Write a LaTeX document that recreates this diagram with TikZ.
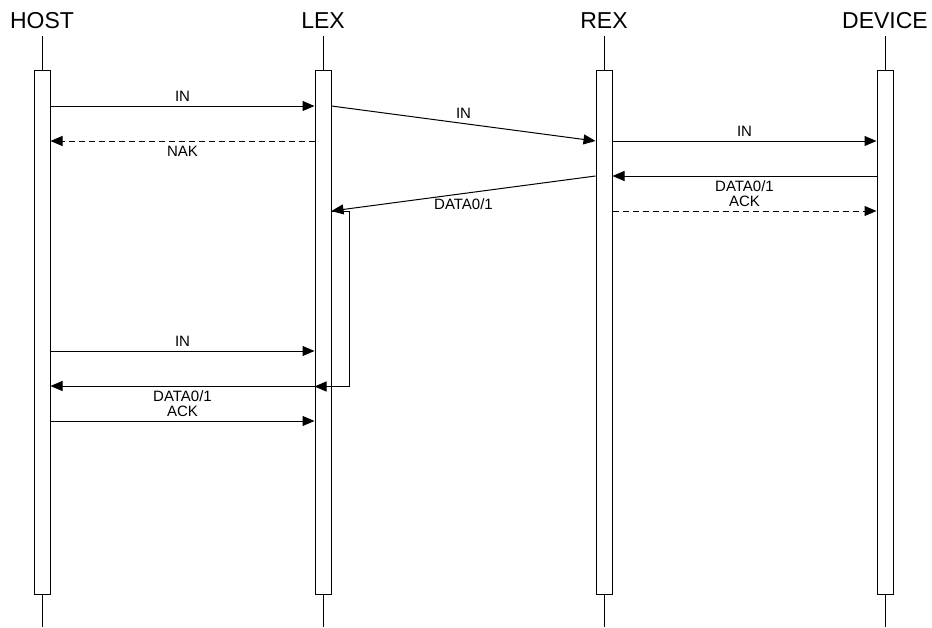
\documentclass[tikz,border=0pt]{standalone}
\usepackage{fontspec}
\setmainfont{Liberation Sans}
\usetikzlibrary{arrows.meta,positioning}

\begin{document}
\begin{tikzpicture}[
   x=1pt, y=-1pt,
   actor/.style={font=\fontsize{23}{25}\selectfont, inner xsep=0pt, inner ysep=6.8pt},
   lifebar/.style={draw, fill=white, line width=1pt, minimum width=16pt,
      minimum height=524pt, inner sep=0pt},
   selfbar/.style={draw, line width=1pt, minimum width=18pt, minimum height=175pt,
      inner sep=0pt},
   lifeline/.style={line width=1pt},
   msg/.style={-{Triangle[length=12pt, width=10pt]}, line width=1pt},
   reply/.style={msg, dash pattern=on 6pt off 4pt},
   elab/.style={font=\fontsize{15}{16.5}\selectfont, inner sep=4.2pt}
]
\useasboundingbox (0,0) rectangle (932,627);

\node[actor] (host) at (42,21) {HOST};
\node[actor] (lex) at (323,21) {LEX};
\node[actor] (rex) at (604,21) {REX};
\node[actor] (dev) at (885,21) {DEVICE};

\node[lifebar] (hostbar) at (42,332) {};
\node[lifebar] (lexbar) at (323,332) {};
\node[lifebar] (rexbar) at (604,332) {};
\node[lifebar] (devbar) at (885,332) {};
\node[selfbar] (lexself) at (340,298.5) {};

\coordinate (hostend) at (42,627);
\coordinate (lexend) at (323,627);
\coordinate (rexend) at (604,627);
\coordinate (devend) at (885,627);

\draw[lifeline] (host.south) -- (hostbar.north);
\draw[lifeline] (lex.south) -- (lexbar.north);
\draw[lifeline] (rex.south) -- (rexbar.north);
\draw[lifeline] (dev.south) -- (devbar.north);
\draw[lifeline] (hostbar.south) -- (hostend);
\draw[lifeline] (lexbar.south) -- (lexend);
\draw[lifeline] (rexbar.south) -- (rexend);
\draw[lifeline] (devbar.south) -- (devend);

% first poll
\draw[msg] (hostbar.east |- 0,106) -- node[elab, above] {IN} (lexbar.west |- 0,106);
\draw[reply] (lexbar.west |- 0,141) -- node[elab, below] {NAK} (hostbar.east |- 0,141);
\draw[msg] (lexbar.east |- 0,106) -- node[elab, above] {IN} (rexbar.west |- 0,141);
\draw[msg] (rexbar.east |- 0,141) -- node[elab, above] {IN} (devbar.west |- 0,141);
\draw[msg] (devbar.west |- 0,176) -- node[elab, below] {DATA0/1} (rexbar.east |- 0,176);
\draw[reply] (rexbar.east |- 0,211) -- node[elab, above] {ACK} (devbar.west |- 0,211);
\draw[msg] (rexbar.west |- 0,176) -- node[elab, below] {DATA0/1} (lexbar.east |- 0,211);

% second poll
\draw[msg] (lexself.south east) -- (lexbar.west |- lexself.south);
\draw[msg] (hostbar.east |- 0,351) -- node[elab, above] {IN} (lexbar.west |- 0,351);
\draw[msg] (lexbar.west |- 0,386) -- node[elab, below] {DATA0/1} (hostbar.east |- 0,386);
\draw[msg] (hostbar.east |- 0,421) -- node[elab, above] {ACK} (lexbar.west |- 0,421);
\end{tikzpicture}
\end{document}
